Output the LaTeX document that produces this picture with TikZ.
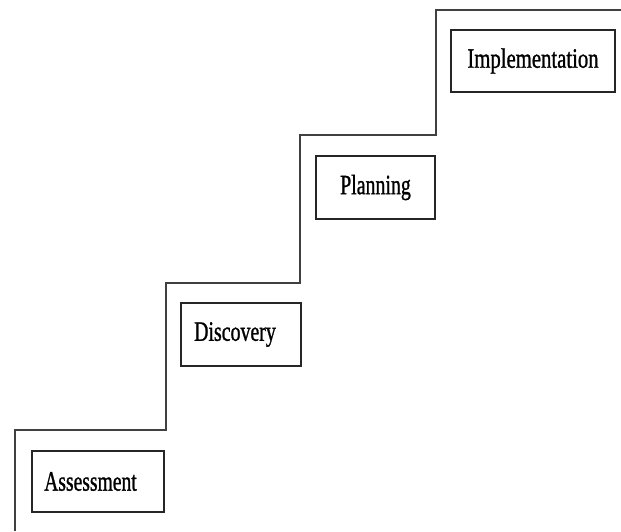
\documentclass[tikz,border=0pt]{standalone}
\usepackage{fontspec}
\setmainfont{Liberation Serif}
\newfontfamily\stepfont[FakeBold=1.2]{Liberation Serif}
\usepackage{graphicx}
\begin{document}
\begin{tikzpicture}[x=1pt,y=-1pt,
  stepbox/.style={draw=black!85,line width=1.4pt,rectangle,inner sep=0pt,
    font=\stepfont\fontsize{28}{30}\selectfont},
  stair/.style={draw=black!75,line width=1.4pt}]
\useasboundingbox (0,0) rectangle (621,531);
\fill[white] (0,0) rectangle (621,531);
\draw[stair] (15,531) -- (15,430) -- (166,430) -- (166,283) -- (300,283)
  -- (300,135) -- (436,135) -- (436,10) -- (621,10);
\node[stepbox,minimum width=132pt,minimum height=61pt] (assess) at (98,481.5)
  {\hspace*{-15pt}\scalebox{0.70}[1]{Assessment}};
\node[stepbox,minimum width=120pt,minimum height=63pt] (disc) at (241,334.5)
  {\hspace*{-12pt}\scalebox{0.71}[1]{Discovery}};
\node[stepbox,minimum width=119pt,minimum height=63pt] (plan) at (375.5,187.5)
  {\scalebox{0.71}[1]{Planning}};
\node[stepbox,minimum width=164pt,minimum height=62pt] (impl) at (533,61)
  {\scalebox{0.74}[1]{Implementation}};
\end{tikzpicture}
\end{document}
